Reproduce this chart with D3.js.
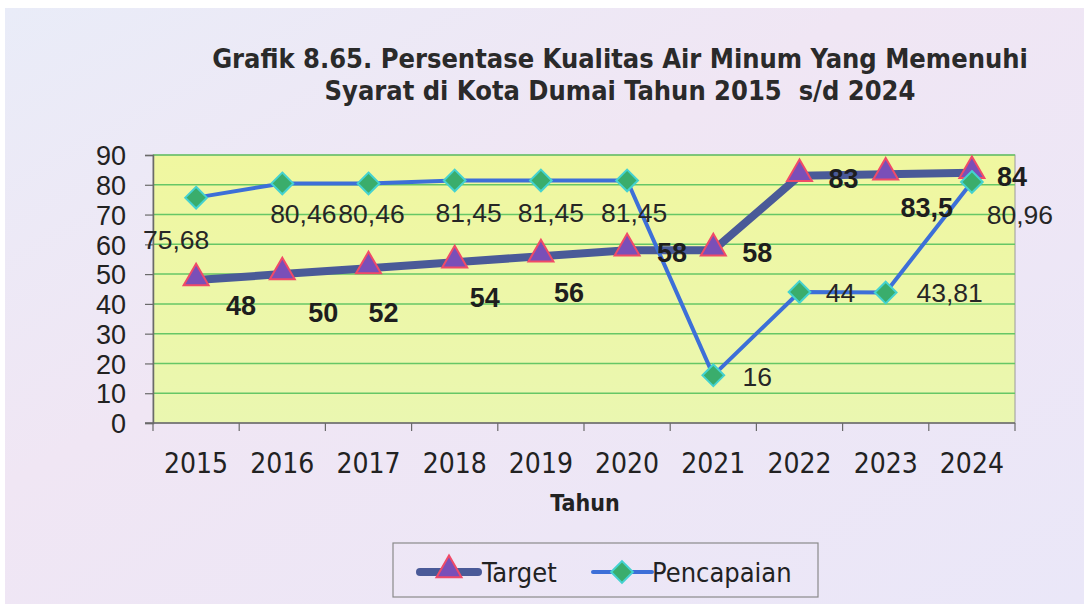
<!DOCTYPE html>
<html>
<head>
<meta charset="utf-8">
<script src="https://cdn.jsdelivr.net/npm/d3@7"></script>
<style>
  html, body { margin: 0; padding: 0; background: #ffffff; }
  svg { display: block; }
  text { white-space: pre; }
</style>
</head>
<body>
<svg id="chart" width="1084" height="604"></svg>
<script>
// Data
const years = ["2015", "2016", "2017", "2018", "2019", "2020", "2021", "2022", "2023", "2024"];
const target = [48, 50, 52, 54, 56, 58, 58, 83, 83.5, 84];
const pencapaian = [75.68, 80.46, 80.46, 81.45, 81.45, 81.45, 16, 44, 43.81, 80.96];
const yTicks = [0, 10, 20, 30, 40, 50, 60, 70, 80, 90];
const titleLines = [
  "Grafik 8.65. Persentase Kualitas Air Minum Yang Memenuhi",
  "Syarat di Kota Dumai Tahun 2015  s/d 2024"
];

// Label offsets (dx, dy) from each point, in pixels
const targetLabelOffset = [[45, 25], [41, 38], [15, 44], [30, 35], [28, 36], [45, 2], [44, 2], [44, 2], [41, 33], [40, 3]];
const pencLabelOffset = [[-20, 42], [21, 30], [3, 30], [14, 32], [10, 32], [7, 32], [44, 1], [41, 0], [64, 0], [48, 33]];

const fmt = v => String(v).replace(".", ",");

const svg = d3.select("#chart");
const W = 1084, H = 604;
const plot = { left: 153, right: 1015, top: 155, bottom: 423 };
const condensed = "'DejaVu Sans Condensed', 'DejaVu Sans', sans-serif";

const defs = svg.append("defs");
const bgGrad = defs.append("linearGradient").attr("id", "bgGrad")
  .attr("x1", 0).attr("y1", 0).attr("x2", 1).attr("y2", 1);
bgGrad.append("stop").attr("offset", "0%").attr("stop-color", "#e9ecf8");
bgGrad.append("stop").attr("offset", "40%").attr("stop-color", "#f0e6f4");
bgGrad.append("stop").attr("offset", "100%").attr("stop-color", "#eae7f8");

const plotGrad = defs.append("linearGradient").attr("id", "plotGrad")
  .attr("x1", 0).attr("y1", 0).attr("x2", 0).attr("y2", 1);
plotGrad.append("stop").attr("offset", "0%").attr("stop-color", "#f0f7a0");
plotGrad.append("stop").attr("offset", "100%").attr("stop-color", "#eaf7b0");

// Page background
svg.append("rect").attr("x", 5).attr("y", 8).attr("width", W - 5).attr("height", H - 8)
  .attr("fill", "url(#bgGrad)");

// Scales
const x = d3.scaleBand().domain(years).range([plot.left, plot.right]).padding(0);
const y = d3.scaleLinear().domain([0, 90]).range([plot.bottom, plot.top]);
const cx = d => x(d) + x.bandwidth() / 2;

// Plot area
svg.append("rect")
  .attr("x", plot.left).attr("y", plot.top)
  .attr("width", plot.right - plot.left).attr("height", plot.bottom - plot.top)
  .attr("fill", "url(#plotGrad)")
  .attr("stroke", "#9a9a9a").attr("stroke-width", 1);

// Gridlines
svg.append("g").selectAll("line")
  .data(yTicks.filter(t => t > 0))
  .join("line")
  .attr("x1", plot.left).attr("x2", plot.right)
  .attr("y1", d => y(d)).attr("y2", d => y(d))
  .attr("stroke", "#66c766").attr("stroke-width", 1.5);

// Y axis
const yAxis = svg.append("g")
  .attr("transform", `translate(${plot.left},0)`)
  .call(d3.axisLeft(y).tickValues(yTicks).tickSize(8).tickPadding(19));
yAxis.select(".domain").attr("stroke", "#6a6a6a").attr("stroke-width", 1.5);
yAxis.selectAll(".tick line").attr("stroke", "#6a6a6a").attr("stroke-width", 1.2);
yAxis.selectAll(".tick text")
  .attr("font-family", "'Liberation Sans', Arial, sans-serif")
  .attr("font-size", 27).attr("fill", "#222").attr("dy", "0.36em");

// X axis (ticks at category boundaries)
const xAxisG = svg.append("g").attr("transform", `translate(0,${plot.bottom})`);
xAxisG.append("line")
  .attr("x1", plot.left - 8).attr("x2", plot.right)
  .attr("stroke", "#6a6a6a").attr("stroke-width", 1.5);
xAxisG.selectAll("line.tk")
  .data(years.concat(["end"]))
  .join("line").attr("class", "tk")
  .attr("x1", (d, i) => i < years.length ? x(d) : plot.right)
  .attr("x2", (d, i) => i < years.length ? x(d) : plot.right)
  .attr("y1", 0).attr("y2", 8)
  .attr("stroke", "#6a6a6a").attr("stroke-width", 1.2);
xAxisG.selectAll("text")
  .data(years)
  .join("text")
  .attr("x", d => cx(d)).attr("y", 50)
  .attr("text-anchor", "middle")
  .attr("font-family", condensed)
  .attr("font-stretch", "condensed")
  .attr("font-size", 28).attr("fill", "#222")
  .text(d => d);

// Axis title
svg.append("text")
  .attr("x", 585).attr("y", 511)
  .attr("text-anchor", "middle")
  .attr("font-family", condensed)
  .attr("font-stretch", "condensed")
  .attr("font-weight", "bold").attr("font-size", 23).attr("fill", "#222")
  .text("Tahun");

// Title
svg.append("g").selectAll("text")
  .data(titleLines)
  .join("text")
  .attr("x", 620).attr("y", (d, i) => 68 + i * 32)
  .attr("text-anchor", "middle")
  .attr("font-family", condensed)
  .attr("font-stretch", "condensed")
  .attr("font-weight", "bold").attr("font-size", 27).attr("fill", "#2a2a2a")
  .text(d => d);

// Series
const line = d3.line().x(d => cx(d.year)).y(d => y(d.v));
const targetPts = years.map((yr, i) => ({ year: yr, v: target[i], i }));
const pencPts = years.map((yr, i) => ({ year: yr, v: pencapaian[i], i }));

const triangle = d3.symbol().type(d3.symbolTriangle).size(270);
const diamond = d3.symbol().type(d3.symbolDiamond2).size(300);

// Target
svg.append("path").datum(targetPts)
  .attr("d", line).attr("fill", "none")
  .attr("stroke", "#4a5a98").attr("stroke-width", 8)
  .attr("stroke-linejoin", "round");
svg.append("g").selectAll("path")
  .data(targetPts).join("path")
  .attr("d", triangle)
  .attr("transform", d => `translate(${cx(d.year)},${y(d.v) - 2})`)
  .attr("fill", "#7a4fb8").attr("stroke", "#f04a68").attr("stroke-width", 2);

// Pencapaian
svg.append("path").datum(pencPts)
  .attr("d", line).attr("fill", "none")
  .attr("stroke", "#3d6fd8").attr("stroke-width", 4)
  .attr("stroke-linejoin", "round");
svg.append("g").selectAll("path")
  .data(pencPts).join("path")
  .attr("d", diamond)
  .attr("transform", d => `translate(${cx(d.year)},${y(d.v)})`)
  .attr("fill", "#3aad6c").attr("stroke", "#44d2d0").attr("stroke-width", 2);

// Data labels
svg.append("g").selectAll("text")
  .data(pencPts).join("text")
  .attr("x", d => cx(d.year) + pencLabelOffset[d.i][0])
  .attr("y", d => y(d.v) + pencLabelOffset[d.i][1])
  .attr("dy", "0.36em")
  .attr("text-anchor", "middle")
  .attr("font-family", "'Liberation Sans', Arial, sans-serif")
  .attr("font-size", 26.5).attr("fill", "#262626")
  .text(d => fmt(d.v));

svg.append("g").selectAll("text")
  .data(targetPts).join("text")
  .attr("x", d => cx(d.year) + targetLabelOffset[d.i][0])
  .attr("y", d => y(d.v) + targetLabelOffset[d.i][1])
  .attr("dy", "0.36em")
  .attr("text-anchor", "middle")
  .attr("font-family", "'Liberation Sans', Arial, sans-serif")
  .attr("font-weight", "bold")
  .attr("font-size", 27).attr("fill", "#1e1e1e")
  .text(d => fmt(d.v));

// Legend
const lg = svg.append("g");
lg.append("rect").attr("x", 393).attr("y", 543).attr("width", 425).attr("height", 54)
  .attr("fill", "none").attr("stroke", "#8a8a8a").attr("stroke-width", 1.2);
const ly = 572;
lg.append("line").attr("x1", 420).attr("x2", 478).attr("y1", ly).attr("y2", ly)
  .attr("stroke", "#4a5a98").attr("stroke-width", 8).attr("stroke-linecap", "round");
lg.append("path").attr("d", triangle).attr("transform", `translate(449,${ly - 2})`)
  .attr("fill", "#7a4fb8").attr("stroke", "#f04a68").attr("stroke-width", 2);
lg.append("text").attr("x", 482).attr("y", ly).attr("dy", "0.36em")
  .attr("font-family", condensed)
  .attr("font-stretch", "condensed")
  .attr("font-size", 27).attr("fill", "#222").text("Target");
lg.append("line").attr("x1", 593).attr("x2", 652).attr("y1", ly).attr("y2", ly)
  .attr("stroke", "#3d6fd8").attr("stroke-width", 4).attr("stroke-linecap", "round");
lg.append("path").attr("d", diamond).attr("transform", `translate(622,${ly})`)
  .attr("fill", "#3aad6c").attr("stroke", "#44d2d0").attr("stroke-width", 2);
lg.append("text").attr("x", 652).attr("y", ly).attr("dy", "0.36em")
  .attr("font-family", condensed)
  .attr("font-stretch", "condensed")
  .attr("font-size", 27).attr("fill", "#222").text("Pencapaian");
</script>
</body>
</html>
